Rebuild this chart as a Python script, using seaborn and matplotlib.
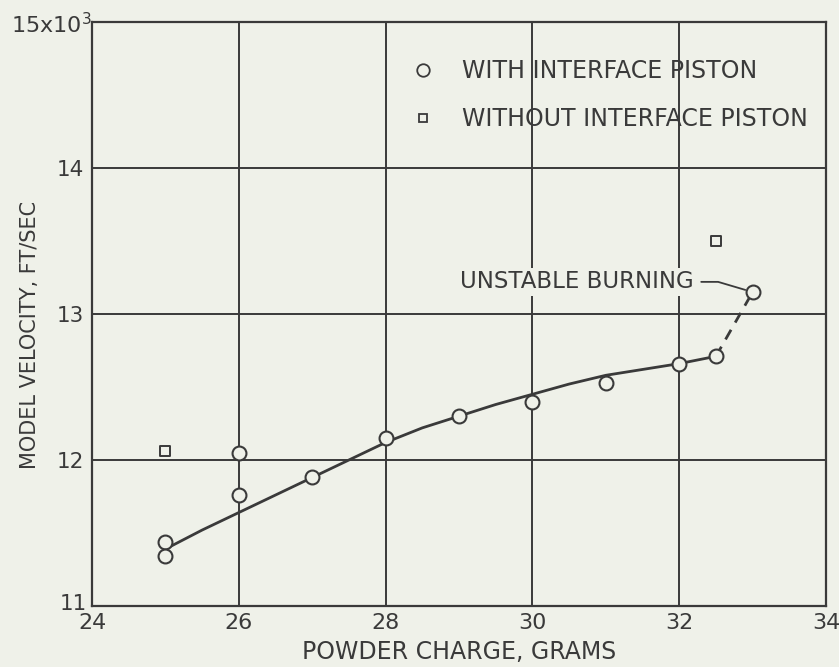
import matplotlib
matplotlib.use("Agg")
import matplotlib.pyplot as plt
import seaborn as sns
import pandas as pd
from matplotlib.patches import Rectangle
from matplotlib.lines import Line2D

# Test data: model velocity (thousands of ft/sec) against powder charge (grams)
with_piston_charge = [25, 25, 26, 26, 27, 28, 29, 30, 31, 32, 32.5, 33]
with_piston_velocity = [11.44, 11.34, 12.05, 11.76, 11.88, 12.15, 12.30, 12.40, 12.53, 12.66, 12.71, 13.15]

without_piston_charge = [25, 32.5]
without_piston_velocity = [12.06, 13.50]

# Faired curve through the interface-piston data
fair_charge = [25, 25.5, 26, 26.5, 27, 27.5, 28, 28.5, 29, 29.5, 30, 30.5, 31, 31.5, 32, 32.5]
fair_velocity = [11.39, 11.52, 11.64, 11.76, 11.88, 12.00, 12.12, 12.22, 12.30, 12.38,
                 12.45, 12.52, 12.58, 12.62, 12.66, 12.71]

# Dashed extension into the unstable-burning point
unstable_charge = [32.5, 33]
unstable_velocity = [12.71, 13.15]

x_ticks = [24, 26, 28, 30, 32, 34]
y_ticks = [11, 12, 13, 14, 15]

paper = "#eff1e9"
ink = "#3a3a3a"

sns.set_theme(style="white")
plt.rcParams["font.family"] = ["DejaVu Sans"]

fig = plt.figure(figsize=(8.39, 6.67), dpi=100, facecolor=paper)
ax = fig.add_axes([0.1097, 0.0915, 0.8748, 0.8755])
ax.set_facecolor(paper)

ax.set_xlim(24, 34)
ax.set_ylim(11, 15)
ax.set_xticks(x_ticks)
ax.set_yticks(y_ticks)
ax.grid(True, color=ink, linewidth=1.4, zorder=0)
ax.set_axisbelow(True)
for s in ax.spines.values():
    s.set_color(ink)
    s.set_linewidth(1.6)
ax.tick_params(axis="x", length=0, labelsize=16, colors=ink, pad=5)
ax.tick_params(axis="y", length=4, width=1.3, direction="out", labelsize=15.5, colors=ink, pad=2)
ax.set_xticklabels([str(v) for v in x_ticks])
ax.set_yticklabels(["", "12", "13", "14", ""])

# Blank panel behind the key in the upper right
ax.add_patch(Rectangle((0.4, 0.75), 0.6, 0.25, transform=ax.transAxes,
                       facecolor=paper, edgecolor="none", zorder=0.5))

fair = pd.DataFrame({"charge": fair_charge, "velocity": fair_velocity})
sns.lineplot(data=fair, x="charge", y="velocity", ax=ax, color=ink, linewidth=2.0,
             sort=True, zorder=2)
ext = pd.DataFrame({"charge": unstable_charge, "velocity": unstable_velocity})
sns.lineplot(data=ext, x="charge", y="velocity", ax=ax, color=ink, linewidth=2.0,
             linestyle=(0, (4, 3)), zorder=2)

wp = pd.DataFrame({"charge": with_piston_charge, "velocity": with_piston_velocity})
sns.scatterplot(data=wp, x="charge", y="velocity", ax=ax, marker="o", s=100,
                facecolor=paper, edgecolor=ink, linewidth=1.5, zorder=3)
wop = pd.DataFrame({"charge": without_piston_charge, "velocity": without_piston_velocity})
sns.scatterplot(data=wop, x="charge", y="velocity", ax=ax, marker="s", s=60,
                facecolor=paper, edgecolor=ink, linewidth=1.4, zorder=3)

ax.set_xlabel("POWDER CHARGE, GRAMS", fontsize=17, color=ink)
ax.set_ylabel("MODEL VELOCITY, FT/SEC", fontsize=15, color=ink)
ax.xaxis.set_label_coords(0.5, -0.0788)
ax.xaxis.label.set_va("center")
ax.yaxis.set_label_coords(-0.0845, 0.464)
ax.yaxis.label.set_va("center")

# Axis end labels
ax.text(-0.026, 0.003, "11", transform=ax.transAxes, fontsize=15.5, color=ink,
        ha="center", va="center")
ax.text(-0.111, 1 - 11 / 584, r"15x10$^{\mathregular{3}}$", transform=ax.transAxes,
        fontsize=16, color=ink, ha="left", va="baseline")

# Annotation for the last point
ax.text(29.01, 13.22, "UNSTABLE BURNING", fontsize=16.5, color=ink, ha="left", va="center",
        bbox=dict(facecolor=paper, edgecolor="none", pad=2), zorder=2.5)
ax.plot([32.3, 32.53, 32.9], [13.22, 13.22, 13.165], color=ink, linewidth=1.3, zorder=2)

handles = [
    Line2D([], [], marker="o", linestyle="none", markersize=9, markerfacecolor=paper,
           markeredgecolor=ink, markeredgewidth=1.3),
    Line2D([], [], marker="s", linestyle="none", markersize=6, markerfacecolor=paper,
           markeredgecolor=ink, markeredgewidth=1.3),
]
ax.legend(handles, ["WITH INTERFACE PISTON", "WITHOUT INTERFACE PISTON"],
          loc="center left", bbox_to_anchor=(0.4346, 0.875), frameon=False,
          fontsize=17, labelcolor=ink, handlelength=1.0, handletextpad=1.15,
          labelspacing=1.0, borderaxespad=0, borderpad=0)

fig.savefig("out.png", dpi=100, facecolor=paper)
